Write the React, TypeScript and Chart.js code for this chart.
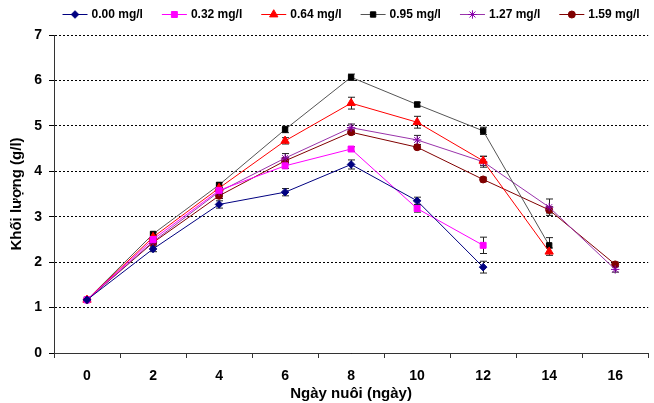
import { useEffect, useRef } from "react";
import { Chart, registerables } from "chart.js";
import { drawPoint } from "chart.js/helpers";

Chart.register(...registerables);

const days = ["0", "2", "4", "6", "8", "10", "12", "14", "16"];
const seriesNames = ["0.00 mg/l", "0.32 mg/l", "0.64 mg/l", "0.95 mg/l", "1.27 mg/l", "1.59 mg/l"];

const v000 = [1.17, 2.29, 3.27, 3.54, 4.15, 3.35, 1.89];
const e000 = [0.03, 0.06, 0.08, 0.08, 0.1, 0.08, 0.13];
const v032 = [1.17, 2.5, 3.58, 4.12, 4.49, 3.18, 2.37];
const e032 = [0.03, 0.05, 0.06, 0.06, 0.05, 0.08, 0.18];
const v064 = [1.17, 2.55, 3.63, 4.67, 5.5, 5.08, 4.23, 2.23];
const e064 = [0.03, 0.06, 0.06, 0.07, 0.13, 0.13, 0.1, 0.08];
const v095 = [1.17, 2.62, 3.7, 4.92, 6.07, 5.47, 4.89, 2.37];
const e095 = [0.03, 0.04, 0.05, 0.07, 0.07, 0.05, 0.08, 0.17];
const v127 = [1.17, 2.45, 3.55, 4.29, 4.96, 4.69, 4.21, 3.21, 1.84];
const e127 = [0.03, 0.05, 0.06, 0.1, 0.08, 0.1, 0.12, 0.18, 0.06];
const v159 = [1.17, 2.43, 3.46, 4.23, 4.86, 4.53, 3.82, 3.15, 1.95];
const e159 = [0.03, 0.05, 0.06, 0.07, 0.05, 0.05, 0.05, 0.07, 0.05];

const yTicks = [0, 1, 2, 3, 4, 5, 6, 7];

const FONT = "'Liberation Sans', Arial, sans-serif";

const errorBarPlugin = {
  id: "errorBars",
  beforeDatasetsDraw(chart: any) {
    const ctx = chart.ctx;
    const ys = chart.scales.y;
    chart.data.datasets.forEach((ds: any, i: number) => {
      const meta = chart.getDatasetMeta(i);
      const errs = ds.errors || [];
      ctx.save();
      ctx.strokeStyle = "#222";
      ctx.lineWidth = 1;
      meta.data.forEach((pt: any, j: number) => {
        const v = ds.data[j];
        const e = errs[j];
        if (v == null || e == null) return;
        const x = Math.round(pt.x) + 0.5;
        const yt = ys.getPixelForValue(v + e);
        const yb = ys.getPixelForValue(v - e);
        ctx.beginPath();
        ctx.moveTo(x, yt);
        ctx.lineTo(x, yb);
        ctx.moveTo(x - 3.5, yt);
        ctx.lineTo(x + 3.5, yt);
        ctx.moveTo(x - 3.5, yb);
        ctx.lineTo(x + 3.5, yb);
        ctx.stroke();
      });
      ctx.restore();
    });
  },
};

const legendPlugin = {
  id: "customLegend",
  afterDraw(chart: any) {
    const ctx = chart.ctx;
    const ds = chart.data.datasets;
    const lineLen = 25;
    const gap = 4;
    const spacing = 19;
    const yc = 14.5;
    ctx.save();
    ctx.font = `bold 12px ${FONT}`;
    const widths = ds.map((d: any) => ctx.measureText(d.label).width);
    const total =
      widths.reduce((a: number, w: number) => a + w + lineLen + gap, 0) + spacing * (ds.length - 1);
    const ca = chart.chartArea;
    let x = (ca.left + ca.right) / 2 - total / 2;
    ds.forEach((d: any, i: number) => {
      ctx.strokeStyle = d.borderColor;
      ctx.lineWidth = 1;
      ctx.beginPath();
      ctx.moveTo(x, yc);
      ctx.lineTo(x + lineLen, yc);
      ctx.stroke();
      ctx.fillStyle = d.pointBackgroundColor;
      ctx.strokeStyle = d.pointBorderColor;
      drawPoint(
        ctx,
        { pointStyle: d.pointStyle, radius: d.pointRadius, rotation: 0, borderWidth: 1 },
        x + lineLen / 2,
        yc
      );
      ctx.fillStyle = "#000";
      ctx.textBaseline = "middle";
      ctx.textAlign = "left";
      ctx.fillText(d.label, x + lineLen + gap, yc + 0.5);
      x += lineLen + gap + widths[i] + spacing;
    });
    ctx.restore();
  },
};

function makeDs(label: string, data: number[], errors: number[], line: string, mark: string, style: string, r: number) {
  return {
    label,
    data,
    errors,
    borderColor: line,
    borderWidth: 1,
    pointStyle: style,
    pointRadius: r,
    pointHoverRadius: r,
    pointBackgroundColor: mark,
    pointBorderColor: mark,
    pointBorderWidth: 1,
    tension: 0,
    fill: false,
  };
}

export default function App() {
  const ref = useRef<HTMLCanvasElement | null>(null);
  useEffect(() => {
    if (!ref.current) return;
    const chart = new Chart(ref.current, {
      type: "line",
      data: {
        labels: days,
        datasets: [
          makeDs(seriesNames[0], v000, e000, "#000080", "#000080", "rectRot", 3.8),
          makeDs(seriesNames[1], v032, e032, "#FF00FF", "#FF00FF", "rect", 4.2),
          makeDs(seriesNames[2], v064, e064, "#FF0000", "#FF0000", "triangle", 4.8),
          makeDs(seriesNames[3], v095, e095, "#555555", "#000000", "rect", 3.8),
          makeDs(seriesNames[4], v127, e127, "#9933AA", "#8800AA", "star", 4.2),
          makeDs(seriesNames[5], v159, e159, "#800000", "#800000", "circle", 3.5),
        ] as any,
      },
      options: {
        animation: false,
        responsive: false,
        maintainAspectRatio: false,
        layout: { padding: { top: 35, right: 4, left: 0, bottom: 0 } },
        plugins: {
          legend: { display: false },
          tooltip: { enabled: false },
        },
        scales: {
          x: {
            type: "category",
            offset: true,
            grid: {
              display: true,
              drawOnChartArea: false,
              drawTicks: true,
              tickLength: 5,
              offset: true,
              color: "#333",
              tickColor: "#333",
            },
            border: { display: true, color: "#333", width: 1 },
            ticks: {
              font: { family: FONT, size: 14, weight: "bold" },
              color: "#000",
              padding: 10,
              maxRotation: 0,
            },
            title: {
              display: true,
              text: "Ngày nuôi (ngày)",
              font: { family: FONT, size: 15, weight: "bold" },
              color: "#000",
              padding: { top: 0, bottom: 0 },
            },
            afterFit(scale: any) {
              scale.height = 50;
            },
          },
          y: {
            min: 0,
            max: 7,
            afterBuildTicks(scale: any) {
              scale.ticks = yTicks.map((v) => ({ value: v }));
            },
            grid: {
              color: "#000",
              lineWidth: 1,
              tickLength: 5,
              tickColor: "#000",
              tickBorderDash: [],
            },
            border: { display: true, color: "#333", width: 1, dash: [2, 2] },
            ticks: {
              font: { family: FONT, size: 14, weight: "bold" },
              color: "#000",
              padding: 7,
            },
            title: {
              display: true,
              text: "Khối lượng (g/l)",
              font: { family: FONT, size: 15, weight: "bold" },
              color: "#000",
              padding: { top: 8, bottom: 0 },
            },
            afterFit(scale: any) {
              scale.width = 54;
            },
          },
        },
      },
      plugins: [errorBarPlugin, legendPlugin],
    });
    return () => chart.destroy();
  }, []);
  return (
    <div style={{ position: "absolute", left: 0, top: 0, width: 654, height: 403, background: "#fff" }}>
      <canvas ref={ref} width={654} height={403} style={{ width: 654, height: 403, display: "block" }} />
    </div>
  );
}
